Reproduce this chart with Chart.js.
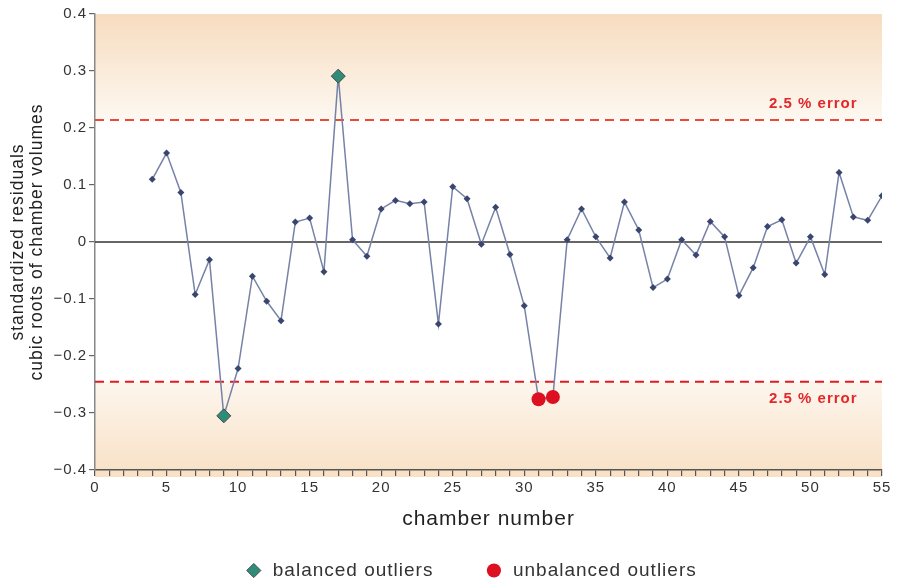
<!DOCTYPE html>
<html>
<head>
<meta charset="utf-8">
<script src="https://cdn.jsdelivr.net/npm/chart.js@4.4.0/dist/chart.umd.min.js"></script>
<style>
  html, body { margin: 0; padding: 0; background: #fff; }
</style>
</head>
<body>
<canvas id="chart" width="898" height="582"></canvas>
<script>
// ---------------- data ----------------
const chambers = [4, 5, 6, 7, 8, 9, 10, 11, 12, 13, 14, 15, 16, 17, 18, 19, 20, 21, 22, 23,
  24, 25, 26, 27, 28, 29, 30, 31, 32, 33, 34, 35, 36, 37, 38, 39, 40, 41, 42, 43,
  44, 45, 46, 47, 48, 49, 50, 51, 52, 53, 54, 55];
const residuals = [0.110, 0.156, 0.087, -0.092, -0.031, -0.305, -0.222, -0.060, -0.104, -0.138,
  0.035, 0.042, -0.052, 0.291, 0.004, -0.025, 0.058, 0.073, 0.067, 0.070,
  -0.144, 0.097, 0.076, -0.004, 0.061, -0.022, -0.112, -0.276, -0.272, 0.004,
  0.058, 0.009, -0.028, 0.070, 0.021, -0.080, -0.065, 0.004, -0.023, 0.036,
  0.009, -0.094, -0.045, 0.027, 0.039, -0.037, 0.009, -0.057, 0.122, 0.044,
  0.038, 0.081];
const balancedChambers = [9, 17];
const unbalancedChambers = [31, 32];
const errorLimits = [0.214, -0.245];
const errorLabel = '2.5 % error';
const xRange = [0, 55];
const yRange = [-0.4, 0.4];

const FONT = "'Liberation Sans', Arial, sans-serif";

// ---------------- helpers ----------------
const pointsFor = list => list.map(c => ({ x: c, y: residuals[chambers.indexOf(c)] }));
const hline = v => [{ x: xRange[0], y: v }, { x: xRange[1], y: v }];

// ---------------- plugins ----------------
const spacing = {
  id: 'spacing',
  beforeLayout(chart) { chart.ctx.letterSpacing = '1px'; },
  beforeDraw(chart) { chart.ctx.letterSpacing = '1px'; }
};

// legend sits a little left of the plot centre in the original
const legendShift = {
  id: 'legendShift',
  afterLayout(chart) {
    chart.legend.left -= 18;
    chart.legend.right -= 18;
  }
};

const bands = {
  id: 'bands',
  beforeDraw(chart) {
    const { ctx, chartArea: a, scales: { y } } = chart;
    const yUp = y.getPixelForValue(errorLimits[0]);
    const yLo = y.getPixelForValue(errorLimits[1]);
    ctx.save();
    let g = ctx.createLinearGradient(0, a.top, 0, yUp);
    g.addColorStop(0, '#f7dcbf');
    g.addColorStop(1, '#fdf8f1');
    ctx.fillStyle = g;
    ctx.fillRect(a.left, a.top, a.right - a.left, yUp - a.top);
    g = ctx.createLinearGradient(0, yLo, 0, a.bottom + 7);
    g.addColorStop(0, '#fdf6ee');
    g.addColorStop(1, '#f8e0c4');
    ctx.fillStyle = g;
    ctx.fillRect(a.left, yLo, a.right - a.left, a.bottom + 7 - yLo);
    ctx.restore();
  }
};

const errorText = {
  id: 'errorText',
  afterDatasetsDraw(chart) {
    const { ctx, scales: { x, y } } = chart;
    const cx = x.getPixelForValue(50.2);
    ctx.save();
    ctx.letterSpacing = '1px';
    ctx.font = 'bold 15px ' + FONT;
    ctx.fillStyle = '#e3262a';
    ctx.textAlign = 'center';
    ctx.textBaseline = 'middle';
    ctx.fillText(errorLabel, cx, y.getPixelForValue(errorLimits[0]) - 16);
    ctx.fillText(errorLabel, cx, y.getPixelForValue(errorLimits[1]) + 17);
    ctx.restore();
  }
};

// ---------------- chart ----------------
const ctx = document.getElementById('chart').getContext('2d');
const chart = new Chart(ctx, {
  type: 'line',
  data: {
    datasets: [
      {
        label: 'balanced outliers',
        data: pointsFor(balancedChambers),
        showLine: false,
        pointStyle: 'rectRot',
        pointRadius: 7,
        pointBackgroundColor: '#2f8c79',
        pointBorderColor: '#4a4a4a',
        pointBorderWidth: 1,
        backgroundColor: '#2f8c79',
        borderColor: '#4a4a4a',
        order: 0
      },
      {
        label: 'unbalanced outliers',
        data: pointsFor(unbalancedChambers),
        showLine: false,
        pointStyle: 'circle',
        pointRadius: 7,
        pointBackgroundColor: '#dc1020',
        pointBorderColor: '#dc1020',
        pointBorderWidth: 0,
        backgroundColor: '#dc1020',
        borderColor: '#dc1020',
        order: 0
      },
      {
        label: 'residuals',
        data: chambers.map((c, i) => ({ x: c, y: residuals[i] })),
        borderColor: '#7682a8',
        borderWidth: 1.5,
        pointStyle: 'rectRot',
        pointRadius: 3.5,
        pointBackgroundColor: '#3a4670',
        pointBorderWidth: 0,
        tension: 0,
        order: 1
      },
      {
        label: 'zero',
        data: hline(0),
        borderColor: '#333',
        borderWidth: 1.3,
        pointRadius: 0,
        order: 2
      },
      {
        label: 'upper',
        data: hline(errorLimits[0]),
        borderColor: '#e94b35',
        borderWidth: 2,
        borderDash: [9, 6],
        pointRadius: 0,
        order: 2
      },
      {
        label: 'lower',
        data: hline(errorLimits[1]),
        borderColor: '#e01b22',
        borderWidth: 2,
        borderDash: [9, 6],
        pointRadius: 0,
        order: 2
      }
    ]
  },
  options: {
    responsive: false,
    animation: false,
    layout: { padding: { top: 14, right: 16, left: 0, bottom: -8 } },
    plugins: {
      tooltip: { enabled: false },
      legend: {
        position: 'bottom',
        fullSize: false,
        labels: {
          filter: item => item.datasetIndex <= 1,
          usePointStyle: true,
          boxHeight: 10,
          boxWidth: 19,
          padding: 51,
          color: '#333',
          font: { family: FONT, size: 19 }
        }
      }
    },
    scales: {
      x: {
        type: 'linear',
        min: xRange[0],
        max: xRange[1],
        afterFit(s) { s.height = 40; },
        border: { display: true, color: '#555', width: 1.5 },
        grid: { drawOnChartArea: false, drawTicks: true, tickLength: 6, color: '#555', lineWidth: 1.2 },
        ticks: {
          stepSize: 1,
          autoSkip: false,
          maxRotation: 0,
          padding: 3,
          color: '#333',
          font: { family: FONT, size: 15 },
          callback: v => (v % 5 === 0 ? String(v) : '')
        },
        title: {
          display: true,
          text: 'chamber number',
          color: '#222',
          font: { family: FONT, size: 21 },
          padding: { top: 0, bottom: -22 }
        }
      },
      y: {
        min: yRange[0],
        max: yRange[1],
        afterFit(s) { s.width = 95; },
        border: { display: true, color: '#888', width: 1.5 },
        grid: { drawOnChartArea: false, drawTicks: true, tickLength: 6, color: '#666', lineWidth: 1.2 },
        ticks: {
          stepSize: 0.1,
          padding: 2,
          color: '#333',
          font: { family: FONT, size: 15 },
          callback: v => {
            if (Math.abs(v) < 1e-9) return '0';
            return (v < 0 ? '\u2212' : '') + Math.abs(v).toFixed(1);
          }
        },
        title: {
          display: true,
          text: ['standardized residuals', 'cubic roots of chamber volumes'],
          color: '#222',
          font: { family: FONT, size: 17.5, lineHeight: 1.12 },
          padding: { top: 8, bottom: 0 }
        }
      }
    }
  },
  plugins: [spacing, legendShift, bands, errorText]
});
</script>
</body>
</html>
